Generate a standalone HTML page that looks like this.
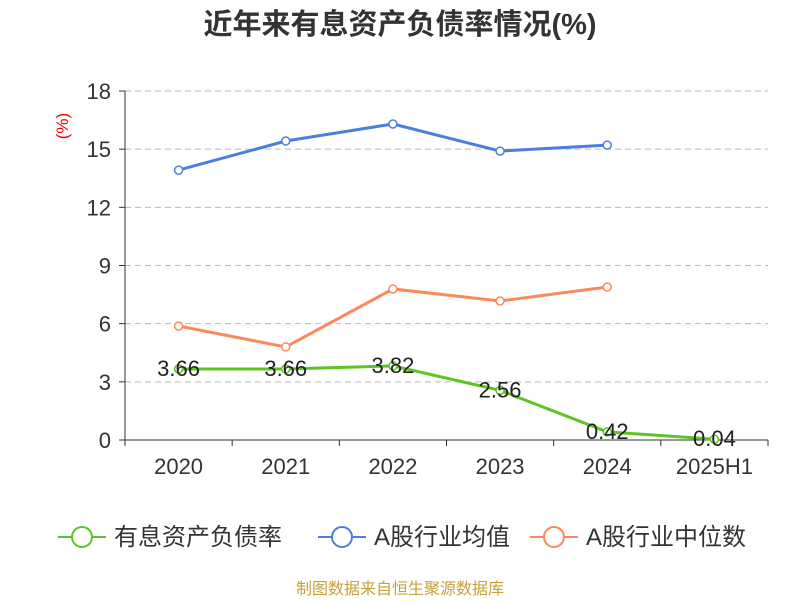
<!DOCTYPE html>
<html><head><meta charset="utf-8"><style>
body{margin:0;background:#fff;font-family:"Liberation Sans","Noto Sans CJK SC",sans-serif;}
</style></head><body>
<svg id="c" width="800" height="600" xmlns="http://www.w3.org/2000/svg">
<text x="400" y="34" text-anchor="middle" font-size="29" font-weight="bold" fill="#333" font-family="Liberation Sans, Noto Sans CJK SC, sans-serif">近年来有息资产负债率情况(%)</text>
<text x="68" y="126" text-anchor="middle" font-size="17" fill="#e00" transform="rotate(-90 68 126)" font-family="Liberation Sans, sans-serif">(%)</text>
<g id="grid"></g><g id="axes"></g><g id="series"></g>
<g id="legend"></g>
<text x="400" y="594" text-anchor="middle" font-size="16" fill="#c8a03a" font-family="Liberation Sans, Noto Sans CJK SC, sans-serif">制图数据来自恒生聚源数据库</text>
</svg>
<script>
const categories=["2020","2021","2022","2023","2024","2025H1"];
const yTicks=[0,3,6,9,12,15,18];
const debtRatio=[3.66,3.66,3.82,2.56,0.42,0.04];
const industryAvg=[13.92,15.42,16.3,14.9,15.21,null];
const industryMedian=[5.88,4.8,7.79,7.17,7.89,null];
const seriesNames=["有息资产负债率","A股行业均值","A股行业中位数"];
const NS="http://www.w3.org/2000/svg";
const x0=125,x1=768,y0=440,y1=91,band=(x1-x0)/categories.length;
const xs=i=>x0+band*(i+0.5);
const ys=v=>y0-(v/18)*(y0-y1);
function mk(t,a,p){const e=document.createElementNS(NS,t);for(const k in a)e.setAttribute(k,a[k]);p.appendChild(e);return e;}
const grid=document.getElementById('grid'),axes=document.getElementById('axes'),ser=document.getElementById('series'),leg=document.getElementById('legend');
yTicks.forEach(v=>{
 if(v>0){const l=mk('line',{x1:x0,x2:x1,y1:ys(v),y2:ys(v),stroke:'#bbb','stroke-dasharray':'6,4'},grid);
 
 }
 const tk=mk('line',{x1:x0-6,x2:x0,y1:ys(v),y2:ys(v),stroke:'#333'},axes);
 
 
 const t=mk('text',{x:x0-14,y:ys(v)+8,'text-anchor':'end','font-size':22,fill:'#333'},axes);t.textContent=v;
 
 
});
const ya=mk('line',{x1:x0,x2:x0,y1:y1,y2:y0,stroke:'#333'},axes);


const xa=mk('line',{x1:x0,x2:x1,y1:y0,y2:y0,stroke:'#333'},axes);


for(let i=0;i<=categories.length;i++){const tk=mk('line',{x1:x0+band*i,x2:x0+band*i,y1:y0,y2:y0+6,stroke:'#333'},axes);
 
 }
categories.forEach((c,i)=>{const t=mk('text',{x:xs(i),y:y0+34,'text-anchor':'middle','font-size':22,fill:'#333'},axes);t.textContent=c;
 
 });
function drawSeries(data,color,name,labels){
 const pts=data.map((v,i)=>v==null?null:[xs(i),ys(v)]).filter(p=>p);
 const pl=mk('polyline',{points:pts.map(p=>p.join(',')).join(' '),fill:'none',stroke:color,'stroke-width':3},ser);
 
 
 data.forEach((v,i)=>{if(v==null)return;
  const c=mk('circle',{cx:xs(i),cy:ys(v),r:4,fill:'#fff',stroke:color,'stroke-width':1.5},ser);
  
  
  if(labels){const t=mk('text',{x:xs(i),y:ys(v)+7,'text-anchor':'middle','font-size':22,fill:'#222'},ser);t.textContent=v.toFixed(2);
   
   }
 });
}
drawSeries(industryAvg,'#4a7fe0','industry-avg',false);
drawSeries(industryMedian,'#fa8a5a','industry-median',false);
drawSeries(debtRatio,'#5cc423','debt-ratio',true);
const lc=['#5cc423','#4a7fe0','#fa8a5a'],lx=[58,318,530];
seriesNames.forEach((n,i)=>{
 const g=mk('g',{},leg);
 
 
 mk('line',{x1:lx[i],x2:lx[i]+48,y1:537,y2:537,stroke:lc[i],'stroke-width':2},g);
 mk('circle',{cx:lx[i]+24,cy:537,r:10,fill:'#fff',stroke:lc[i],'stroke-width':2},g);
 const t=mk('text',{x:lx[i]+56,y:545,'font-size':24,fill:'#333'},g);t.textContent=n;
});
</script>
</body></html>
